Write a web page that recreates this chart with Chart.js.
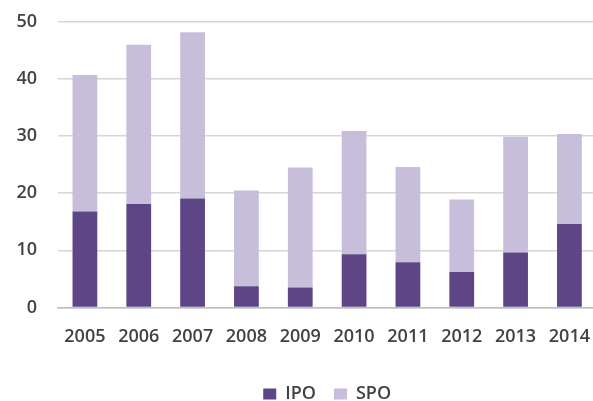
<!DOCTYPE html>
<html>
<head>
<meta charset="utf-8">
<script src="https://cdn.jsdelivr.net/npm/chart.js@4"></script>
<style>
  html,body{margin:0;padding:0;background:#fff;overflow:hidden;width:593px;height:401px;}
  canvas{display:block;}
</style>
</head>
<body>
<canvas id="chart" width="609" height="401"></canvas>
<script>
  /* ── DATA ── */
  const years = ['2005','2006','2007','2008','2009','2010','2011','2012','2013','2014'];
  const ipo = [16.8, 18.1, 19.1, 3.7, 3.5, 9.3, 7.9, 6.2, 9.6, 14.6];
  const spo = [23.9, 27.9, 29.1, 16.8, 21.0, 21.6, 16.7, 12.7, 20.3, 15.8];
  const yTicks = [0, 10, 20, 30, 40, 50];

  const textColor = '#424242';
  const fontFamily = '"Open Sans", sans-serif';
  const tickFont = { family: fontFamily, size: 18, weight: 600 };

  // legend is centred under the plot area, not the canvas
  const centreLegend = {
    id: 'centreLegend',
    afterLayout(chart) {
      const shift = (chart.chartArea.left + chart.chartArea.right) / 2 - (chart.legend.left + chart.legend.right) / 2;
      chart.legend.left += shift;
      chart.legend.right += shift;
    }
  };

  new Chart(document.getElementById('chart'), {
    type: 'bar',
    data: {
      labels: years,
      datasets: [
        { label: 'IPO', data: ipo, backgroundColor: '#5e4585', barPercentage: 0.46, categoryPercentage: 1 },
        { label: 'SPO', data: spo, backgroundColor: '#c7bedb', barPercentage: 0.46, categoryPercentage: 1 }
      ]
    },
    plugins: [centreLegend],
    options: {
      responsive: false,
      animation: false,
      layout: { padding: { left: 13, right: 0, top: 22, bottom: -12 } },
      plugins: {
        legend: {
          position: 'bottom',
          labels: {
            color: textColor,
            font: { family: fontFamily, size: 18, weight: 600 },
            boxWidth: 13, boxHeight: 11, padding: 18
          }
        },
        tooltip: { enabled: false }
      },
      scales: {
        x: {
          stacked: true,
          grid: { display: false, drawTicks: false },
          border: { display: true, color: '#bdbdbd', width: 1.5 },
          ticks: { color: textColor, font: tickFont, padding: 19, maxRotation: 0 }
        },
        y: {
          stacked: true,
          min: 0, max: 50,
          afterBuildTicks: axis => { axis.ticks = yTicks.map(v => ({ value: v })); },
          afterFit: axis => { axis.width = 45; axis.paddingTop = 0; axis.paddingBottom = 0; },
          grid: { color: '#d6d6d6', lineWidth: 1.5, drawTicks: false },
          border: { display: false },
          ticks: { color: textColor, font: tickFont, padding: 21 }
        }
      }
    }
  });
</script>
</body>
</html>
